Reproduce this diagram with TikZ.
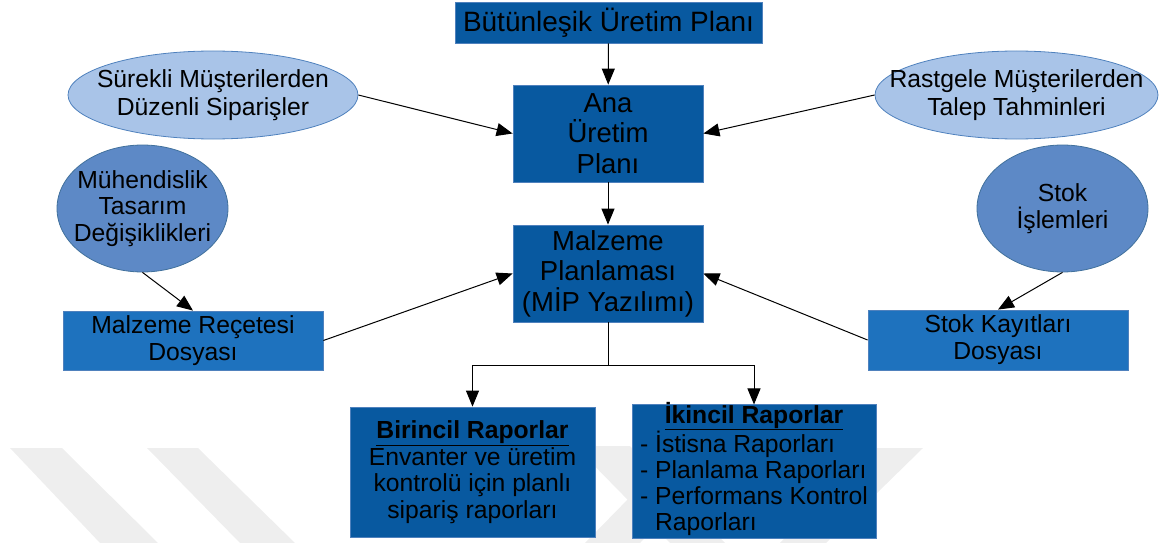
\documentclass[tikz,border=0pt]{standalone}
\usepackage{fontspec}
\setmainfont{Liberation Sans}
\usetikzlibrary{arrows.meta,shapes.geometric}

\definecolor{boxdark}{RGB}{8,89,160}
\definecolor{boxmid}{RGB}{30,114,190}
\definecolor{ellmid}{RGB}{93,137,198}
\definecolor{elllight}{RGB}{169,196,232}
\definecolor{edgeblue}{RGB}{79,129,189}
\definecolor{ellline}{RGB}{65,113,156}
\definecolor{markgray}{RGB}{238,238,238}

\begin{document}
\begin{tikzpicture}[x=1pt,y=-1pt,
  every node/.style={text=black, inner sep=0pt, align=center},
  planbox/.style={rectangle, draw=edgeblue, line width=0.8pt, fill=boxdark},
  filebox/.style={rectangle, draw=edgeblue, line width=0.8pt, fill=boxmid},
  softell/.style={ellipse, draw=edgeblue, fill=elllight, line width=0.8pt, inner xsep=-60pt},
  deepell/.style={ellipse, draw=ellline, fill=ellmid, line width=0.8pt, inner xsep=-60pt},
  link/.style={line width=1pt, -{Triangle[length=16pt,width=13pt]}},
  bigtxt/.style={font=\fontsize{28}{31}\selectfont},
  midtxt/.style={font=\fontsize{27.5}{30.5}\selectfont},
  ellbtxt/.style={font=\fontsize{24.7}{28}\selectfont},
  elltxt/.style={font=\fontsize{24.7}{26.5}\selectfont},
  filetxt/.style={font=\fontsize{24.7}{27}\selectfont},
  reptxt/.style={font=\fontsize{24.7}{26.6}\selectfont},
  listtxt/.style={font=\fontsize{24.7}{26}\selectfont}
]
\useasboundingbox (0,0) rectangle (1160,543);

% faint background stripes
\fill[markgray] (10,448) -- (62,448) -- (158,543) -- (100,543) -- cycle;
\fill[markgray] (147,448) -- (198,448) -- (295,543) -- (240,543) -- cycle;
\fill[markgray] (575,446) -- (630,446) -- (725,543) -- (670,543) -- cycle;
\fill[markgray] (680,446) -- (735,446) -- (640,543) -- (585,543) -- cycle;
\fill[markgray] (870,448) -- (923,448) -- (826,543) -- (780,543) -- cycle;

% planning levels
\node[planbox, bigtxt, minimum width=307, minimum height=41] (bup) at (608.5,22.5) {Bütünleşik Üretim Planı};
\node[planbox, midtxt, minimum width=190, minimum height=97] (ana) at (608,133.5) {Ana\\Üretim\\Planı};
\node[planbox, midtxt, minimum width=190, minimum height=97] (mip) at (608,273.5) {Malzeme\\Planlaması\\(MİP Yazılımı)};

% inputs
\node[softell, ellbtxt, minimum width=290, minimum height=88] (surekli) at (213,95) {Sürekli Müşterilerden\\Düzenli Siparişler};
\node[softell, ellbtxt, minimum width=283, minimum height=88] (rastgele) at (1016.5,95) {Rastgele Müşterilerden\\Talep Tahminleri};
\node[deepell, elltxt, minimum width=171, minimum height=127] (muh) at (142.5,208.5) {Mühendislik\\Tasarım\\Değişiklikleri};
\node[deepell, elltxt, minimum width=171, minimum height=127] (stokis) at (1062.5,208.5) {Stok\\İşlemleri};

% files
\node[filebox, filetxt, minimum width=260, minimum height=59] (recete) at (193,340.5) {Malzeme Reçetesi\\Dosyası};
\node[filebox, filetxt, minimum width=260, minimum height=60] (stokkay) at (998,340) {Stok Kayıtları\\Dosyası};

% reports
\node[planbox, reptxt, minimum width=245, minimum height=130] (birincil) at (472.5,472) {\underline{\textbf{Birincil Raporlar}}\\Envanter ve üretim\\kontrolü için planlı\\sipariş raporları};
\node[planbox, listtxt, minimum width=244, minimum height=131] (ikincil) at (754,471.5) {\begin{tabular}{@{}l@{}}
\multicolumn{1}{@{}c@{}}{\smash{\underline{\textbf{İkincil Raporlar}}}}\\
- İstisna Raporları\\
- Planlama Raporları\\
- Performans Kontrol\\
\phantom{- }Raporları
\end{tabular}};

% connectors
\draw[link] (bup) -- (ana);
\draw[link] (ana) -- (mip);
\draw[link] (surekli.east) -- (ana.west);
\draw[link] (rastgele.west) -- (ana.east);
\draw[link] (muh.south) -- (recete.north);
\draw[link] (stokis.south) -- (stokkay.north);
\draw[link] (recete.east) -- (mip.west);
\draw[link] (stokkay.west) -- (mip.east);
\draw[line width=1pt] (mip.south) -- ++(0,43) coordinate (split);
\draw[link] (split) -| (birincil.north);
\draw[link] (split) -| (ikincil.north);
\end{tikzpicture}
\end{document}
